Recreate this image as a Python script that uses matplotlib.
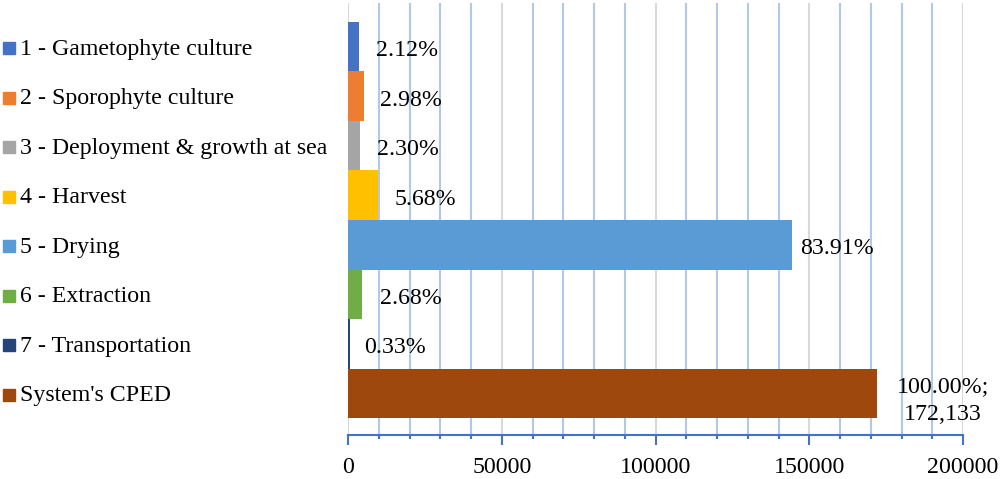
import matplotlib.pyplot as plt
import matplotlib.transforms as mtransforms
from matplotlib.ticker import MultipleLocator

stages = ["1 - Gametophyte culture", "2 - Sporophyte culture",
          "3 - Deployment & growth at sea", "4 - Harvest", "5 - Drying",
          "6 - Extraction", "7 - Transportation", "System's CPED"]
shares = [2.12, 2.98, 2.30, 5.68, 83.91, 2.68, 0.33, 100.00]
total_cped = 172133
values = [total_cped * s / 100 for s in shares]
colors = ["#4472C4", "#ED7D31", "#A5A5A5", "#FFC000",
          "#5B9BD5", "#70AD47", "#264478", "#9E480E"]
# label gap after each bar end, in points
label_pad = [12, 12, 12, 12, 6, 13, 10, 14]

plt.rcParams['font.family'] = ['Liberation Serif', 'DejaVu Serif']
fs = 17.2

fig = plt.figure(figsize=(10.01, 4.79), dpi=100)
ax = fig.add_axes([348 / 1001, 44 / 479, 615 / 1001, 432 / 479])

ypos = list(range(len(stages)))
ax.barh(ypos, values, height=1.0, color=colors, zorder=3)

ax.set_xlim(0, 200000)
ax.set_ylim(7.84, -0.88)

# grid: grey majors every 50000, pale blue minors every 10000
ax.xaxis.set_major_locator(MultipleLocator(50000))
ax.xaxis.set_minor_locator(MultipleLocator(10000))
ax.grid(axis='x', which='minor', color='#B4C7E7', linewidth=1.5, zorder=1)
ax.grid(axis='x', which='major', color='#D9D9D9', linewidth=1.5, zorder=2)
ax.set_yticks([])

for s in ['top', 'right', 'left']:
    ax.spines[s].set_visible(False)
ax.spines['bottom'].set_color('#4472C4')
ax.spines['bottom'].set_linewidth(1.5)
ax.tick_params(axis='x', which='major', direction='out', length=7, width=1.5,
               color='#4472C4', labelsize=fs, pad=8.5)
ax.tick_params(axis='x', which='minor', direction='out', length=3, width=1.5,
               color='#4472C4')

# value labels at bar ends
for i, (v, s) in enumerate(zip(values, shares)):
    if i == len(values) - 1:
        txt = f"{s:.2f}%;\n{total_cped:,}"
        ax.annotate(txt, (v, i), xytext=(label_pad[i], -5),
                    textcoords='offset points', ha='left', va='center',
                    multialignment='center', fontsize=fs, linespacing=1.45)
    else:
        ax.annotate(f"{s:.2f}%", (v, i), xytext=(label_pad[i], -2.8),
                    textcoords='offset points', ha='left', va='center',
                    fontsize=fs)

# legend entries down the left side, one per row
trans = mtransforms.blended_transform_factory(fig.transFigure, ax.transData)
for i, (name, c) in enumerate(zip(stages, colors)):
    ax.plot([9 / 1001], [i + 0.03], marker='s', markersize=8.5, color=c,
            transform=trans, clip_on=False)
    ax.text(20 / 1001, i + 0.05, name, transform=trans, ha='left',
            va='center', fontsize=fs)

fig.savefig("out.png", dpi=100)
